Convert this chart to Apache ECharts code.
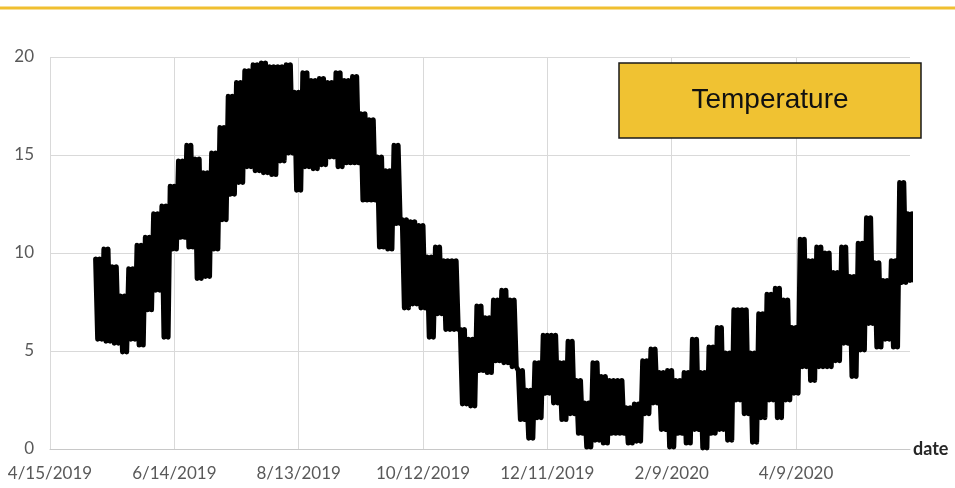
<!DOCTYPE html>
<html>
<head>
<meta charset="utf-8">
<script src="https://cdn.jsdelivr.net/npm/echarts@6/dist/echarts.min.js"></script>
<style>
  html, body { margin: 0; padding: 0; background: #fff; }
  #temperature { width: 955px; height: 488px; }
</style>
</head>
<body>
<div id="temperature"></div>
<script>
// axis starts at 4/15/2019, x values are days from that date
var startDate = Date.UTC(2019, 3, 15);
var firstDay = 22;      // first sample: 5/7/2019
var stepDays = 4;       // one high/low pair every 4 days

// daily highs and lows, one pair per step
var highs = [
  9.7, 10.2, 9.3, 7.8, 9.2, 10.4, 10.8, 12.0, 12.4, 13.4,
  14.7, 15.5, 14.8, 14.1, 15.1, 16.4, 18.0, 18.7, 19.3, 19.6,
  19.7, 19.5, 19.5, 19.6, 18.2, 19.2, 18.8, 18.9, 18.7, 19.2,
  18.8, 19.0, 17.1, 16.8, 14.9, 14.2, 15.5, 11.7, 11.6, 11.4,
  9.8, 10.3, 9.6, 9.6, 6.1, 5.6, 7.3, 6.7, 7.6, 8.1,
  7.6, 4.0, 3.0, 4.4, 5.8, 5.8, 4.4, 5.5, 3.5, 2.35,
  4.4, 3.7, 3.5, 3.5, 2.1, 2.3, 4.5, 5.1, 3.9, 4.0,
  3.5, 3.9, 5.6, 3.9, 5.2, 6.2, 4.9, 7.1, 7.1, 4.9,
  6.9, 7.9, 8.2, 7.6, 6.2, 10.7, 9.6, 10.3, 10.0, 9.0,
  10.3, 8.8, 10.5, 11.8, 9.5, 8.6, 9.6, 13.6, 12.0
];
var lows = [
  5.6, 5.5, 5.4, 4.95, 5.6, 5.3, 7.1, 8.1, 5.7, 10.2,
  10.8, 10.3, 8.7, 8.8, 10.2, 11.7, 13.0, 13.6, 14.4, 14.2,
  14.1, 14.0, 14.7, 15.1, 13.2, 14.4, 14.3, 14.5, 14.9, 14.4,
  14.6, 14.6, 12.7, 12.7, 10.3, 10.2, 11.5, 7.2, 7.4, 7.2,
  5.7, 6.9, 6.1, 6.1, 2.3, 2.2, 4.0, 3.9, 4.5, 4.4,
  4.2, 1.5, 0.55, 1.6, 2.85, 2.35, 1.5, 1.8, 0.8, 0.1,
  0.45, 0.3, 0.8, 0.8, 0.3, 0.4, 1.8, 2.35, 1.0, 0.1,
  0.8, 0.3, 1.0, 0.05, 0.8, 1.0, 0.45, 2.5, 1.8, 0.35,
  1.6, 2.5, 1.6, 2.5, 2.85, 4.2, 3.5, 4.2, 4.2, 4.5,
  5.4, 3.7, 5.05, 6.4, 5.2, 5.6, 5.2, 8.5, 8.6
];
var lastValue = 10.2;   // 6/3/2020

var yTicks = [0, 5, 10, 15, 20];

// the day/night swing: each step's high and low repeated once per day
var points = [];
for (var i = 0; i < highs.length; i++) {
  var d = firstDay + i * stepDays;
  for (var k = 0; k < stepDays; k += 2) {
    points.push([d + k, highs[i]]);
    points.push([d + k + 1, lows[i]]);
  }
}
points.push([firstDay + highs.length * stepDays - 1, lastValue]);

function dayLabel(v) {
  var dt = new Date(startDate + v * 86400000);
  return (dt.getUTCMonth() + 1) + '/' + dt.getUTCDate() + '/' + dt.getUTCFullYear();
}

var myChart = echarts.init(document.getElementById('temperature'));
var option = {
  animation: false,
  grid: { left: 50, right: 45, top: 57, bottom: 39 },
  xAxis: {
    type: 'value',
    min: 0,
    max: 415,
    interval: 60,
    name: 'date',
    nameLocation: 'end',
    nameGap: 3,
    nameTextStyle: { color: '#262626', fontSize: 18, fontWeight: 'bold', fontFamily: 'Lato', verticalAlign: 'middle', padding: [6, 0, 0, 0] },
    axisLine: { show: true, lineStyle: { color: '#c8c8c8', width: 1 } },
    axisTick: { show: false },
    axisLabel: {
      margin: 16,
      color: '#595959',
      fontSize: 17,
      fontFamily: 'Lato',
      showMaxLabel: false,
      formatter: function (v) { return v % 60 === 0 ? dayLabel(v) : ''; }
    },
    splitLine: { show: true, showMaxLine: false, lineStyle: { color: '#d9d9d9', width: 1 } }
  },
  yAxis: {
    type: 'value',
    min: yTicks[0],
    max: yTicks[yTicks.length - 1],
    interval: 5,
    axisLine: { show: false },
    axisTick: { show: false },
    axisLabel: { margin: 16, color: '#595959', fontSize: 17, fontFamily: 'Lato' },
    splitLine: { lineStyle: { color: '#d9d9d9', width: 1 } }
  },
  series: [{
    type: 'line',
    data: points,
    showSymbol: false,
    sampling: null,
    color: '#000',
    lineStyle: { color: '#000', width: 5, join: 'round', cap: 'round' }
  }],
  graphic: [
    {
      type: 'line',
      z: 100,
      shape: { x1: 0, y1: 8, x2: 955, y2: 8 },
      style: { stroke: '#F0BF30', lineWidth: 3 }
    },
    {
      type: 'rect',
      z: 100,
      shape: { x: 619, y: 63, width: 302, height: 75 },
      style: { fill: '#F0C232', stroke: '#1a1a1a', lineWidth: 1.5 }
    },
    {
      type: 'text',
      z: 101,
      x: 770,
      y: 100,
      style: {
        text: 'Temperature',
        fill: '#111',
        fontSize: 28,
        fontFamily: 'Liberation Sans',
        align: 'center',
        verticalAlign: 'middle'
      }
    }
  ]
};
myChart.setOption(option);
</script>
</body>
</html>
